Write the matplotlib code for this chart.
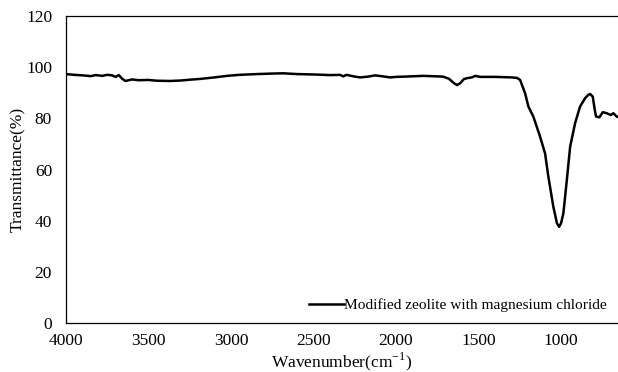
import matplotlib.pyplot as plt

plt.rcParams['font.family'] = ['Liberation Serif', 'DejaVu Serif']
plt.rcParams['mathtext.fontset'] = 'custom'
plt.rcParams['mathtext.rm'] = 'Liberation Serif'

# FTIR spectrum
wavenumber = [4000, 3950, 3900, 3850, 3820, 3780, 3750, 3720, 3700, 3680,
              3660, 3640, 3600, 3560, 3500, 3450, 3370, 3300, 3250, 3188,
              3100, 3024, 2950, 2842, 2750, 2685, 2600, 2479, 2400, 2339,
              2320, 2300, 2250, 2218, 2170, 2127, 2080, 2036, 2000, 1950,
              1836, 1750, 1715, 1680, 1650, 1630, 1610, 1590, 1570, 1540,
              1520, 1491, 1400, 1300, 1267, 1248, 1218, 1198, 1168, 1127,
              1097, 1077, 1047, 1025, 1012, 1000, 986, 965, 945, 915,
              885, 855, 835, 824, 808, 795, 788, 768, 747, 735,
              723, 699, 683, 663, 655]
transmittance = [97.3, 97.0, 96.8, 96.5, 96.9, 96.6, 97.0, 96.8, 96.2, 96.9,
                 95.5, 94.6, 95.2, 94.9, 95.0, 94.7, 94.6, 94.8, 95.1, 95.4,
                 96.0, 96.6, 97.0, 97.3, 97.5, 97.6, 97.3, 97.1, 96.9, 97.0,
                 96.4, 97.0, 96.3, 96.0, 96.3, 96.8, 96.4, 96.0, 96.2, 96.3,
                 96.6, 96.4, 96.3, 95.5, 93.8, 93.0, 93.8, 95.3, 95.7, 96.0,
                 96.6, 96.2, 96.2, 96.0, 95.8, 95.0, 89.8, 84.6, 80.7, 72.8,
                 66.3, 57.2, 45.5, 39.0, 37.6, 39.0, 42.9, 55.9, 68.9, 78.1,
                 84.6, 87.8, 89.2, 89.5, 88.5, 83.0, 80.7, 80.4, 82.4, 82.2,
                 82.0, 81.3, 82.0, 80.7, 80.5]

x_ticks = [4000, 3500, 3000, 2500, 2000, 1500, 1000]
y_ticks = [0, 20, 40, 60, 80, 100, 120]

fig = plt.figure(figsize=(6.18, 3.72), dpi=100)
ax = fig.add_axes([66 / 618, 1 - 323 / 372, 1 - 66 / 618, (323 - 16) / 372])

ax.plot(wavenumber, transmittance, color='black', linewidth=1.8,
        label='Modified zeolite with magnesium chloride')

ax.set_xlim(4000, 655)
ax.set_ylim(0, 120)
ax.set_xticks(x_ticks)
ax.set_yticks(y_ticks)
ax.tick_params(length=0, labelsize=12.5)
ax.tick_params(axis='y', pad=10)
ax.tick_params(axis='x', pad=7)
ax.spines['right'].set_visible(False)
for s in ['left', 'bottom', 'top']:
    ax.spines[s].set_linewidth(0.9)

ax.set_xlabel('Wavenumber(cm$^{\\mathregular{-1}}$)', fontsize=12.5, va='center')
ax.xaxis.set_label_coords(0.5, -0.125)
ax.set_ylabel('Transmittance(%)', fontsize=12.5, va='center')
ax.yaxis.set_label_coords(-0.087, 0.5)

ax.legend(loc='lower right', frameon=False, fontsize=11.1, handlelength=2.27,
          handletextpad=0.0, borderaxespad=0.3, bbox_to_anchor=(1.0, 0.0))

fig.savefig('out.png', dpi=100)
